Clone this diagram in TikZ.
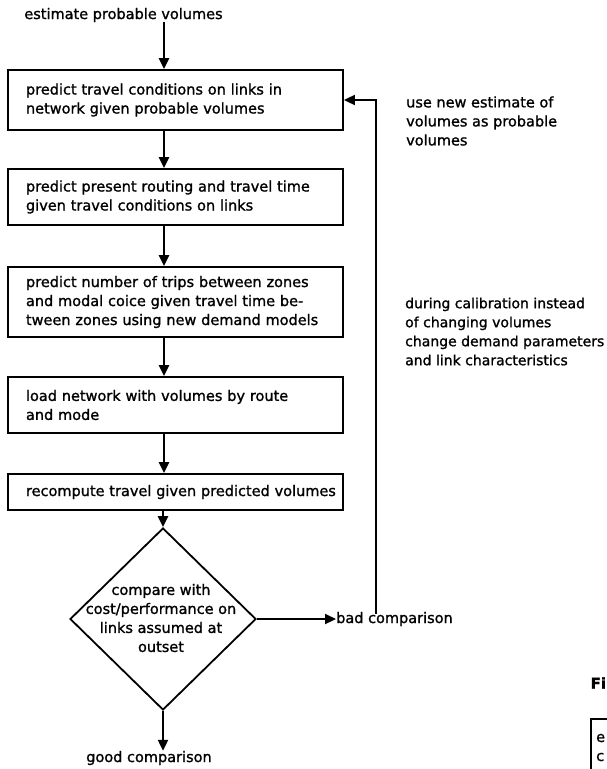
\documentclass[tikz,border=0pt]{standalone}
\usepackage{fontspec}
\setmainfont{DejaVu Sans}[FakeBold=1.2]
\usetikzlibrary{arrows.meta,shapes.geometric}
\begin{document}
\begin{tikzpicture}[x=1pt,y=-1pt,
  every node/.style={font=\fontsize{14.5}{19}\selectfont},
  stepbox/.style={draw, rectangle, line width=1.8pt, text width=299pt, align=left,
    inner xsep=18pt, inner ysep=2pt},
  decision/.style={draw, diamond, line width=1.8pt, minimum width=186pt,
    minimum height=182pt, inner sep=0pt},
  plain/.style={inner sep=0pt, align=left},
  arr/.style={line width=2.2pt, -{Triangle[length=11pt,width=10pt]}},
  loopline/.style={line width=1.8pt, -{Triangle[length=11pt,width=10pt]}}]
\clip (0,0) rectangle (607,769);
\fill[white] (0,0) rectangle (607,769);

% column of processing steps
\coordinate (ax) at (164,0);
\coordinate (fb) at (376,0);
\node[plain] (start) at (123.5,15) {estimate probable volumes};
\node[stepbox, minimum height=60pt] (b1) at (175.5,100)
  {predict travel conditions on links in\\network given probable volumes};
\node[stepbox, minimum height=56pt] (b2) at (175.5,197)
  {predict present routing and travel time\\given travel conditions on links};
\node[stepbox, minimum height=70pt] (b3) at (175.5,302)
  {predict number of trips between zones\\and modal coice given travel time be-\\tween zones using new demand models};
\node[stepbox, minimum height=56pt] (b4) at (175.5,405)
  {load network with volumes by route\\and mode};
\node[stepbox, minimum height=36pt] (b5) at (175.5,492)
  {\mbox{recompute travel given predicted volumes}};

% decision
\node[decision] (dec) at (163,619) {};
\node[plain, align=center] (dectext) at (161,618)
  {compare with\\cost/performance on\\links assumed at\\outset};
\node[plain, anchor=west] (bad) at (336,619) {bad comparison};
\node[plain] (good) at (149,758) {good comparison};

% side notes
\node[plain, anchor=west] (note1) at (406,121)
  {use new estimate of\\volumes as probable\\volumes};
\node[plain, anchor=west, font=\fontsize{14}{19}\selectfont] (note2) at (405,331.5)
  {during calibration instead\\of changing volumes\\change demand parameters\\and link characteristics};

% connectors
\draw[arr] (start.south -| ax) -- (b1.north -| ax);
\draw[arr] (b1.south -| ax) -- (b2.north -| ax);
\draw[arr] (b2.south -| ax) -- (b3.north -| ax);
\draw[arr] (b3.south -| ax) -- (b4.north -| ax);
\draw[arr] (b4.south -| ax) -- (b5.north -| ax);
\draw[arr] (b5.south -| dec.north) -- (dec.north);
\draw[arr] (dec.east) -- (bad.west);
\draw[arr] (dec.south) -- (dec.south |- good.north);
\draw[loopline] ([yshift=-2pt]bad.north -| fb) |- (b1.east);

% edge of the neighbouring figure
\node[plain, anchor=west, font=\bfseries\fontsize{15}{19}\selectfont] (figtag) at (590.5,683) {Fi};
\node[draw, line width=1.5pt, anchor=north west, minimum width=80pt,
  minimum height=80pt] (nextbox) at (590,718) {};
\node[plain, anchor=west] (nextl1) at (596,738) {e};
\node[plain, anchor=west] (nextl2) at (596,757) {c};
\end{tikzpicture}
\end{document}
